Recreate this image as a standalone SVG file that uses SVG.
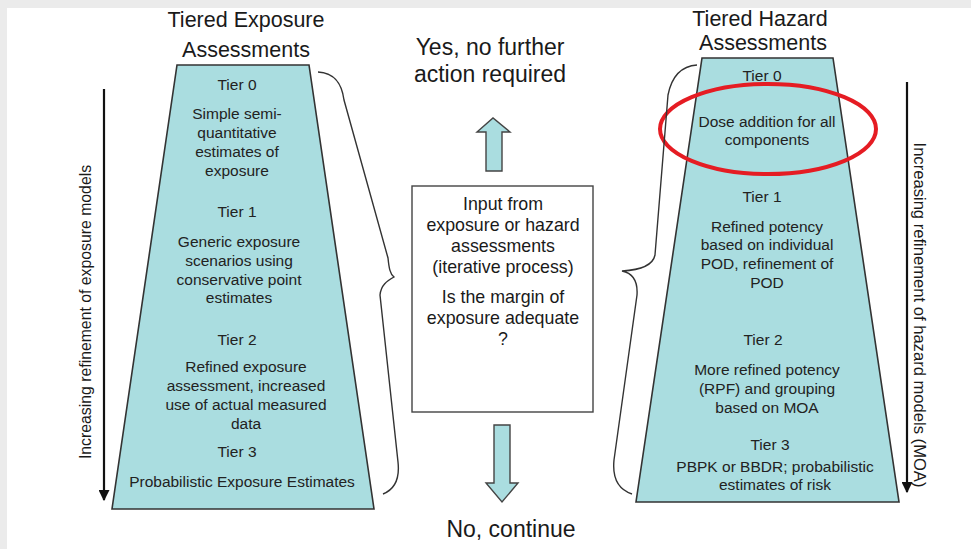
<svg xmlns="http://www.w3.org/2000/svg" width="971" height="549" viewBox="0 0 971 549">
  <defs>
    <style>
      .t { font-family: "Liberation Sans", Arial, sans-serif; fill: #1a1a1a; text-anchor: middle; }
      .title { font-size: 21.5px; }
      .big { font-size: 23px; }
      .tier { font-size: 15.5px; fill: #222; }
      .box { font-size: 17.8px; }
      .side { font-size: 15.8px; }
      .side-r { font-size: 16.6px; }
      .trap { fill: #aadde0; stroke: #333; stroke-width: 1.6; }
      .brace { fill: none; stroke: #333; stroke-width: 1.4; }
      .block { fill: #aadde0; stroke: #444; stroke-width: 1.4; }
      .axis { stroke: #111; stroke-width: 2.2; fill: none; }
    </style>
    <marker id="head" viewBox="0 0 10 10" refX="9" refY="5" markerWidth="5" markerHeight="5" orient="auto">
      <path d="M0,0 L10,5 L0,10 Z" fill="#111"/>
    </marker>
  </defs>

  <!-- page background with grey frame -->
  <rect x="0" y="0" width="971" height="549" fill="#ebebeb"/>
  <rect x="7" y="8" width="964" height="541" fill="#ffffff"/>

  <!-- headings -->
  <g id="title-exposure">
    <text class="t title" x="246" y="27">Tiered Exposure</text>
    <text class="t title" x="246" y="57">Assessments</text>
  </g>
  <g id="title-hazard">
    <text class="t title" x="760" y="26">Tiered Hazard</text>
    <text class="t title" x="763" y="50">Assessments</text>
  </g>

  <!-- exposure pyramid -->
  <g id="exposure-tiers">
    <polygon class="trap" points="177,65 309,65 374,509 112,509"/>
    <text class="t tier" x="237" y="90">Tier 0</text>
    <text class="t tier" x="237" y="119">Simple semi-</text>
    <text class="t tier" x="237" y="138">quantitative</text>
    <text class="t tier" x="237" y="157">estimates of</text>
    <text class="t tier" x="237" y="176">exposure</text>
    <text class="t tier" x="237" y="217">Tier 1</text>
    <text class="t tier" x="239" y="247">Generic exposure</text>
    <text class="t tier" x="239" y="266">scenarios using</text>
    <text class="t tier" x="239" y="285">conservative point</text>
    <text class="t tier" x="239" y="303">estimates</text>
    <text class="t tier" x="237" y="345">Tier 2</text>
    <text class="t tier" x="246" y="372">Refined exposure</text>
    <text class="t tier" x="246" y="391">assessment, increased</text>
    <text class="t tier" x="246" y="410">use of actual measured</text>
    <text class="t tier" x="246" y="429">data</text>
    <text class="t tier" x="237" y="457">Tier 3</text>
    <text class="t tier" x="242" y="487">Probabilistic Exposure Estimates</text>
  </g>

  <!-- hazard pyramid -->
  <g id="hazard-tiers">
    <polygon class="trap" points="702,58 833,58 899,502 636,502"/>
    <text class="t tier" x="762" y="81">Tier 0</text>
    <text class="t tier" x="767" y="127">Dose addition for all</text>
    <text class="t tier" x="767" y="145">components</text>
    <text class="t tier" x="762" y="202">Tier 1</text>
    <text class="t tier" x="767" y="232">Refined potency</text>
    <text class="t tier" x="767" y="250">based on individual</text>
    <text class="t tier" x="767" y="269">POD, refinement of</text>
    <text class="t tier" x="767" y="288">POD</text>
    <text class="t tier" x="763" y="345">Tier 2</text>
    <text class="t tier" x="767" y="375">More refined potency</text>
    <text class="t tier" x="767" y="394">(RPF) and grouping</text>
    <text class="t tier" x="767" y="413">based on MOA</text>
    <text class="t tier" x="770" y="450">Tier 3</text>
    <text class="t tier" x="775" y="472">PBPK or BBDR; probabilistic</text>
    <text class="t tier" x="775" y="490">estimates of risk</text>
  </g>

  <!-- highlight round tier 0 of the hazard pyramid -->
  <g id="highlight">
    <ellipse cx="768" cy="129" rx="108" ry="45" fill="none" stroke="#e51c23" stroke-width="4"/>
  </g>

  <!-- decision box -->
  <g id="decision">
    <rect x="412" y="186" width="181" height="226" fill="#ffffff" stroke="#444" stroke-width="1.4"/>
    <text class="t box" x="503" y="210">Input from</text>
    <text class="t box" x="503" y="231">exposure or hazard</text>
    <text class="t box" x="503" y="252">assessments</text>
    <text class="t box" x="503" y="273">(iterative process)</text>
    <text class="t box" x="503" y="303">Is the margin of</text>
    <text class="t box" x="503" y="324">exposure adequate</text>
    <text class="t box" x="503" y="345">?</text>
  </g>

  <g id="outcome-yes">
    <text class="t big" x="490" y="55">Yes, no further</text>
    <text class="t big" x="490" y="82">action required</text>
  </g>
  <g id="outcome-no">
    <text class="t big" x="511" y="537">No, continue</text>
  </g>

  <!-- side axes -->
  <g id="exposure-axis">
    <line class="axis" x1="104" y1="89" x2="104" y2="500" marker-end="url(#head)"/>
    <text class="t side" transform="translate(91,312) rotate(-90)">Increasing refinement of exposure models</text>
  </g>
  <g id="hazard-axis">
    <line class="axis" x1="907" y1="82" x2="907" y2="492" marker-end="url(#head)"/>
    <text class="t side-r" transform="translate(914,315) rotate(90)">Increasing refinement of hazard models (MOA)</text>
  </g>

  <!-- connectors: braces and block arrows -->
  <g id="connectors">
    <path class="brace" d="M318,72 C336,73 342,85 344,100 L388,258 C389,268 390,274 394,277 C387,281 381,285 380,295 L398,462 C400,480 393,490 383,494"/>
    <path class="brace" d="M697,65 C682,66 672,75 668,95 L655,255 C653,265 640,270 622,271 C632,273 638,280 637,295 L614,460 C612,480 620,490 632,494"/>
    <path class="block" d="M486,171 L486,132 L477,132 L493,118 L510,132 L502,132 L502,171 Z"/>
    <path class="block" d="M494,425 L510,425 L510,483 L518,483 L502,502 L486,483 L494,483 Z"/>
  </g>
</svg>
